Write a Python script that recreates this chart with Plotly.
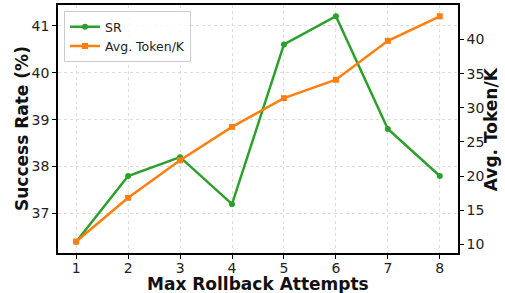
import plotly.graph_objects as go

attempts = [1, 2, 3, 4, 5, 6, 7, 8]
sr = [36.4, 37.8, 38.2, 37.2, 40.6, 41.2, 38.8, 37.8]
tokens = [10.4, 16.8, 22.3, 27.2, 31.4, 34.1, 39.8, 43.4]

FONT = "DejaVu Sans"
fig = go.Figure()
fig.add_trace(go.Scatter(x=attempts, y=sr, name="SR", mode="lines+markers",
                         line=dict(color="#2ca02c", width=2.5),
                         marker=dict(symbol="circle", size=6, color="#2ca02c")))
fig.add_trace(go.Scatter(x=attempts, y=tokens, name="Avg. Token/K", mode="lines+markers",
                         yaxis="y2",
                         line=dict(color="#ff7f0e", width=2.5),
                         marker=dict(symbol="square", size=6, color="#ff7f0e")))

common = dict(ticks="outside", ticklen=4, tickcolor="black", zeroline=False,
              showline=True, linecolor="black", linewidth=1.5, automargin=False,
              tickfont=dict(size=14, color="#222"))
fig.update_layout(
    width=505, height=293,
    margin=dict(l=58, r=47, t=5, b=40),
    paper_bgcolor="white", plot_bgcolor="white",
    font=dict(family=FONT, color="#222", size=13),
    showlegend=True,
    legend=dict(x=0.015, y=0.975, xanchor="left", yanchor="top",
                bgcolor="rgba(255,255,255,0.85)", bordercolor="#cccccc", borderwidth=1,
                font=dict(size=12.5, family=FONT), tracegroupgap=0),
    xaxis=dict(range=[0.65, 8.35], tickvals=attempts, mirror=True, ticklabelstandoff=-3,
               showgrid=True, gridcolor="#dddddd", griddash="dot", gridwidth=1, **common),
    yaxis=dict(range=[36.16, 41.44], tickvals=[37, 38, 39, 40, 41],
               showgrid=True, gridcolor="#dddddd", griddash="dot", gridwidth=1, **common),
    yaxis2=dict(range=[8.72, 45.05], tickvals=[10, 15, 20, 25, 30, 35, 40], overlaying="y",
                side="right", showgrid=False, **common),
    annotations=[
        dict(text="<b>Max Rollback Attempts</b>", xref="paper", yref="paper", x=0.5, y=-0.125,
             xanchor="center", yanchor="middle", showarrow=False, font=dict(size=17, color="#111")),
        dict(text="<b>Success Rate (%)</b>", xref="paper", yref="paper", x=-0.09, y=0.5,
             xanchor="center", yanchor="middle", showarrow=False, textangle=-90,
             font=dict(size=17, color="#111")),
        dict(text="<b>Avg. Token/K</b>", xref="paper", yref="paper", x=1.083, y=0.5,
             xanchor="center", yanchor="middle", showarrow=False, textangle=-90,
             font=dict(size=17, color="#111")),
    ],
)
fig.write_html("out.html", config={"displayModeBar": False},
               post_script="document.body.style.margin='0';")
